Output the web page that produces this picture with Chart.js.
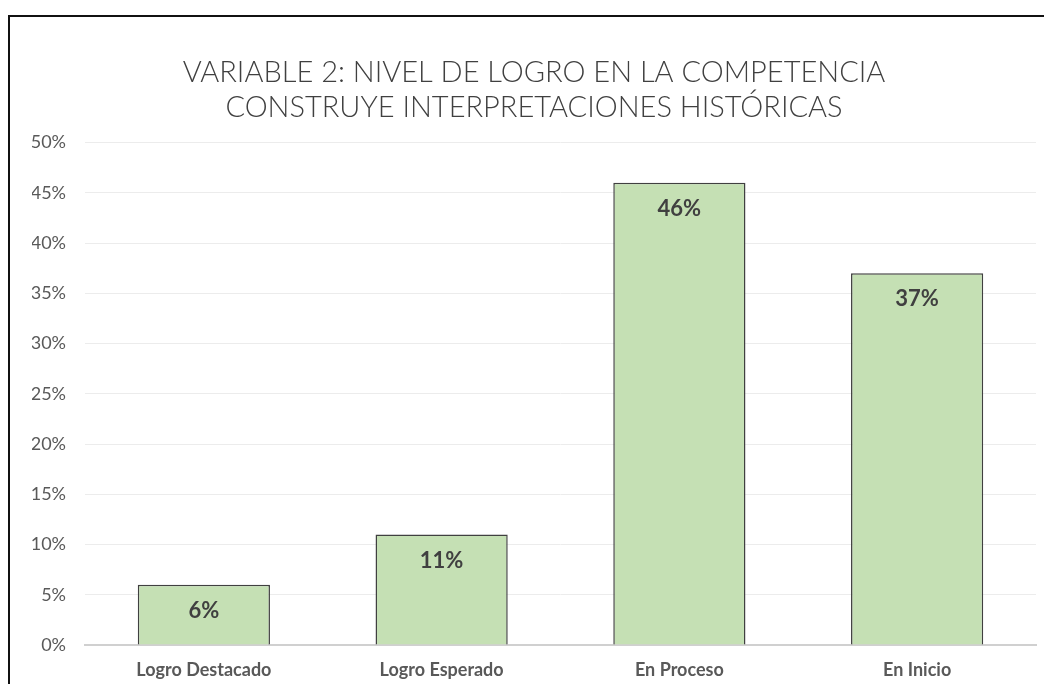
<!DOCTYPE html>
<html>
<head>
<meta charset="utf-8">
<script src="https://cdn.jsdelivr.net/npm/chart.js@4.4.1/dist/chart.umd.min.js"></script>
<style>
  html, body { margin: 0; padding: 0; background: #fff; overflow: hidden; }
  #frame {
    position: absolute; left: 8px; top: 15px; width: 1100px; height: 740px;
    border: 2px solid #111; box-sizing: border-box;
  }
  #wrap { position: absolute; left: 0; top: 0; width: 1044px; height: 684px; }
</style>
</head>
<body>
<div id="frame"></div>
<div id="wrap"><canvas id="chart" width="1044" height="684"></canvas></div>
<script>
// Chart data
var categories = ['Logro Destacado', 'Logro Esperado', 'En Proceso', 'En Inicio'];
var percentages = [6, 11, 46, 37];
var yTicks = [0, 5, 10, 15, 20, 25, 30, 35, 40, 45, 50];
var titleLines = ['VARIABLE 2: NIVEL DE LOGRO EN LA COMPETENCIA', 'CONSTRUYE INTERPRETACIONES HISTÓRICAS'];

var fontFamily = 'Lato, "Open Sans", sans-serif';

// draws the value inside the top of each bar
var barLabels = {
    id: 'barLabels',
    afterDatasetsDraw: function (chart) {
        var ctx = chart.ctx;
        var meta = chart.getDatasetMeta(0);
        ctx.save();
        ctx.font = 'bold 22px ' + fontFamily;
        ctx.fillStyle = '#404040';
        ctx.textAlign = 'center';
        ctx.textBaseline = 'middle';
        meta.data.forEach(function (bar, i) {
            ctx.fillText(percentages[i] + '%', bar.x, bar.y + 26);
        });
        ctx.restore();
    }
};

var chart = new Chart(document.getElementById('chart'), {
    type: 'bar',
    data: {
        labels: categories,
        datasets: [{
            data: percentages,
            backgroundColor: '#c5e0b4',
            borderColor: '#404040',
            borderWidth: 1.5,
            categoryPercentage: 1,
            barPercentage: 0.556
        }]
    },
    options: {
        responsive: false,
        animation: false,
        layout: { padding: { left: 32, right: 8, top: 55, bottom: 3 } },
        plugins: {
            legend: { display: false },
            tooltip: { enabled: false },
            title: {
                display: true,
                text: titleLines,
                color: '#404040',
                font: { family: fontFamily, size: 29, weight: '300', lineHeight: 1.2 },
                padding: { top: 0, bottom: 18 }
            }
        },
        scales: {
            x: {
                grid: { display: false, drawTicks: false },
                border: { display: true, color: '#d0d0d0', width: 2 },
                ticks: {
                    color: '#595959',
                    font: { family: fontFamily, size: 18, weight: 'bold' },
                    padding: 14,
                    maxRotation: 0
                },
                afterFit: function (axis) { axis.height = 36; }
            },
            y: {
                min: yTicks[0],
                max: yTicks[yTicks.length - 1],
                afterBuildTicks: function (axis) {
                    axis.ticks = yTicks.map(function (v) { return { value: v }; });
                },
                grid: { color: '#ececec', lineWidth: 1, drawTicks: false },
                border: { display: false },
                ticks: {
                    color: '#595959',
                    font: { family: fontFamily, size: 18 },
                    padding: 19,
                    callback: function (v) { return v + '%'; }
                },
                afterFit: function (axis) { axis.width = 53; }
            }
        }
    },
    plugins: [barLabels]
});
</script>
</body>
</html>
